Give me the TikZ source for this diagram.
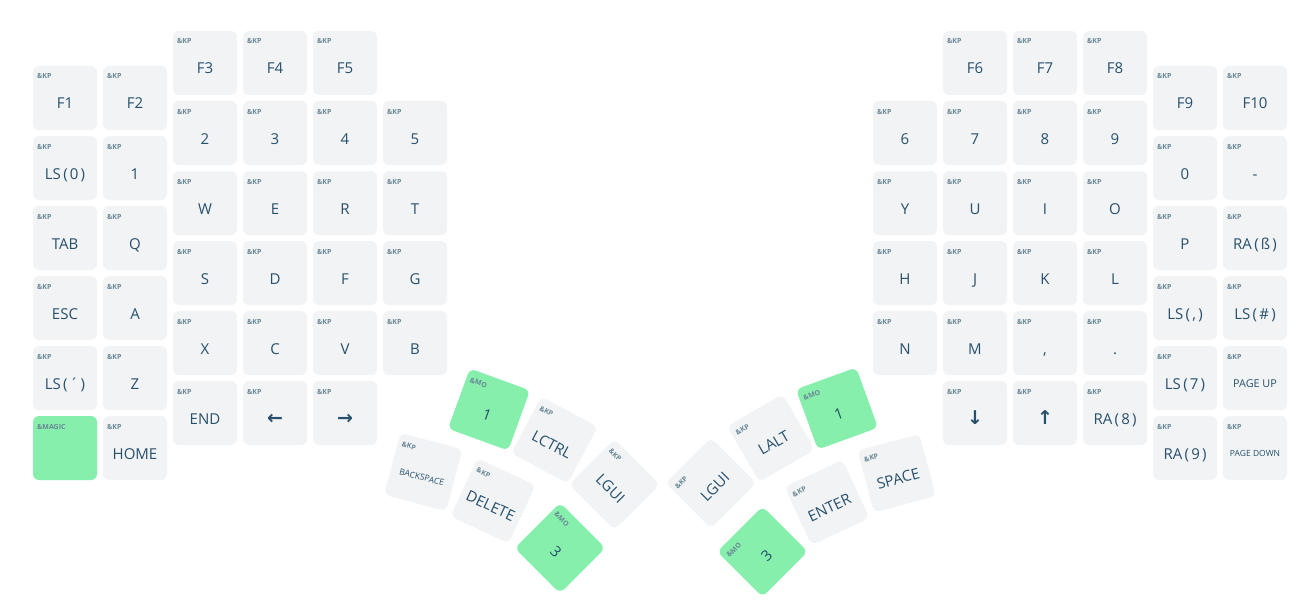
\documentclass[tikz,border=0pt]{standalone}
\usepackage{fontspec}
\setmainfont{Open Sans}
\newfontfamily\arrowfont{DejaVu Sans}
\definecolor{keyfill}{HTML}{F1F3F5}
\definecolor{greenfill}{HTML}{86EFAC}
\definecolor{maincol}{HTML}{27506C}
\definecolor{tagcol}{HTML}{6A8896}
\newcommand\kparen[1]{\kern2.4pt(\kern2.2pt#1\kern2.2pt)}
% #1 name, #2 cx, #3 cy (px, downwards), #4 angle, #5 fill, #6 tag, #7 label, #8 label style
\newcommand\kk[8]{%
\begin{scope}[shift={(#2,-#3)}, rotate=#4, transform shape]
\node[keybox, fill=#5] (#1) at (0,0) {};
\node[tagtxt] (#1t) at (-28,19) {#6};
\node[labtxt, #8] (#1l) at (0,-11) {#7};
\end{scope}}
\tikzset{
  keybox/.style={draw=none, minimum width=64pt, minimum height=64pt, rounded corners=6pt, inner sep=0pt},
  tagtxt/.style={anchor=base west, inner sep=0pt, text=tagcol, font=\fontsize{7}{8}\selectfont\bfseries},
  labtxt/.style={anchor=base, inner sep=0pt, text=maincol, font=\fontsize{15}{18}\selectfont},
  mid/.style={font=\fontsize{10.8}{12}\selectfont, yshift=1.5pt},
  tiny/.style={font=\fontsize{8.5}{10}\selectfont, yshift=2.5pt},
  arr/.style={font=\fontsize{19}{22}\selectfont\arrowfont\bfseries, yshift=0pt},
  nl/.style={}
}
\begin{document}
\begin{tikzpicture}[x=1pt, y=1pt]
\useasboundingbox[fill=white] (0,0) rectangle (1302,-610);
% left hand, columns 0 and 1
\kk{a0}{65}{98}{0}{keyfill}{\&KP}{F1}{nl}
\kk{a1}{65}{168}{0}{keyfill}{\&KP}{LS\kparen{0}}{nl}
\kk{a2}{65}{238}{0}{keyfill}{\&KP}{TAB}{nl}
\kk{a3}{65}{308}{0}{keyfill}{\&KP}{ESC}{nl}
\kk{a4}{65}{378}{0}{keyfill}{\&KP}{LS\kparen{´}}{nl}
\kk{a5}{65}{448}{0}{greenfill}{\&MAGIC}{}{nl}
\kk{b0}{135}{98}{0}{keyfill}{\&KP}{F2}{nl}
\kk{b1}{135}{168}{0}{keyfill}{\&KP}{1}{nl}
\kk{b2}{135}{238}{0}{keyfill}{\&KP}{Q}{nl}
\kk{b3}{135}{308}{0}{keyfill}{\&KP}{A}{nl}
\kk{b4}{135}{378}{0}{keyfill}{\&KP}{Z}{nl}
\kk{b5}{135}{448}{0}{keyfill}{\&KP}{HOME}{nl}
% columns 2-4
\kk{c0}{205}{63}{0}{keyfill}{\&KP}{F3}{nl}
\kk{c1}{205}{133}{0}{keyfill}{\&KP}{2}{nl}
\kk{c2}{205}{203}{0}{keyfill}{\&KP}{W}{nl}
\kk{c3}{205}{273}{0}{keyfill}{\&KP}{S}{nl}
\kk{c4}{205}{343}{0}{keyfill}{\&KP}{X}{nl}
\kk{c5}{205}{413}{0}{keyfill}{\&KP}{END}{nl}
\kk{d0}{275}{63}{0}{keyfill}{\&KP}{F4}{nl}
\kk{d1}{275}{133}{0}{keyfill}{\&KP}{3}{nl}
\kk{d2}{275}{203}{0}{keyfill}{\&KP}{E}{nl}
\kk{d3}{275}{273}{0}{keyfill}{\&KP}{D}{nl}
\kk{d4}{275}{343}{0}{keyfill}{\&KP}{C}{nl}
\kk{d5}{275}{413}{0}{keyfill}{\&KP}{←}{arr}
\kk{e0}{345}{63}{0}{keyfill}{\&KP}{F5}{nl}
\kk{e1}{345}{133}{0}{keyfill}{\&KP}{4}{nl}
\kk{e2}{345}{203}{0}{keyfill}{\&KP}{R}{nl}
\kk{e3}{345}{273}{0}{keyfill}{\&KP}{F}{nl}
\kk{e4}{345}{343}{0}{keyfill}{\&KP}{V}{nl}
\kk{e5}{345}{413}{0}{keyfill}{\&KP}{→}{arr}
\kk{f1}{415}{133}{0}{keyfill}{\&KP}{5}{nl}
\kk{f2}{415}{203}{0}{keyfill}{\&KP}{T}{nl}
\kk{f3}{415}{273}{0}{keyfill}{\&KP}{G}{nl}
\kk{f4}{415}{343}{0}{keyfill}{\&KP}{B}{nl}
% right hand
\kk{g1}{905}{133}{0}{keyfill}{\&KP}{6}{nl}
\kk{g2}{905}{203}{0}{keyfill}{\&KP}{Y}{nl}
\kk{g3}{905}{273}{0}{keyfill}{\&KP}{H}{nl}
\kk{g4}{905}{343}{0}{keyfill}{\&KP}{N}{nl}
\kk{h0}{975}{63}{0}{keyfill}{\&KP}{F6}{nl}
\kk{h1}{975}{133}{0}{keyfill}{\&KP}{7}{nl}
\kk{h2}{975}{203}{0}{keyfill}{\&KP}{U}{nl}
\kk{h3}{975}{273}{0}{keyfill}{\&KP}{J}{nl}
\kk{h4}{975}{343}{0}{keyfill}{\&KP}{M}{nl}
\kk{h5}{975}{413}{0}{keyfill}{\&KP}{↓}{arr}
\kk{i0}{1045}{63}{0}{keyfill}{\&KP}{F7}{nl}
\kk{i1}{1045}{133}{0}{keyfill}{\&KP}{8}{nl}
\kk{i2}{1045}{203}{0}{keyfill}{\&KP}{I}{nl}
\kk{i3}{1045}{273}{0}{keyfill}{\&KP}{K}{nl}
\kk{i4}{1045}{343}{0}{keyfill}{\&KP}{,}{nl}
\kk{i5}{1045}{413}{0}{keyfill}{\&KP}{↑}{arr}
\kk{j0}{1115}{63}{0}{keyfill}{\&KP}{F8}{nl}
\kk{j1}{1115}{133}{0}{keyfill}{\&KP}{9}{nl}
\kk{j2}{1115}{203}{0}{keyfill}{\&KP}{O}{nl}
\kk{j3}{1115}{273}{0}{keyfill}{\&KP}{L}{nl}
\kk{j4}{1115}{343}{0}{keyfill}{\&KP}{.}{nl}
\kk{j5}{1115}{413}{0}{keyfill}{\&KP}{RA\kparen{8}}{nl}
\kk{k0}{1185}{98}{0}{keyfill}{\&KP}{F9}{nl}
\kk{k1}{1185}{168}{0}{keyfill}{\&KP}{0}{nl}
\kk{k2}{1185}{238}{0}{keyfill}{\&KP}{P}{nl}
\kk{k3}{1185}{308}{0}{keyfill}{\&KP}{LS\kparen{,}}{nl}
\kk{k4}{1185}{378}{0}{keyfill}{\&KP}{LS\kparen{7}}{nl}
\kk{k5}{1185}{448}{0}{keyfill}{\&KP}{RA\kparen{9}}{nl}
\kk{l0}{1255}{98}{0}{keyfill}{\&KP}{F10}{nl}
\kk{l1}{1255}{168}{0}{keyfill}{\&KP}{-}{nl}
\kk{l2}{1255}{238}{0}{keyfill}{\&KP}{RA\kparen{ß}}{nl}
\kk{l3}{1255}{308}{0}{keyfill}{\&KP}{LS\kparen{\#}}{nl}
\kk{l4}{1255}{378}{0}{keyfill}{\&KP}{PAGE UP}{mid}
\kk{l5}{1255}{448}{0}{keyfill}{\&KP}{PAGE DOWN}{tiny}
% left thumb cluster
\kk{tl1}{489}{409.5}{-20}{greenfill}{\&MO}{1}{nl}
\kk{tl2}{554.5}{440}{-28}{keyfill}{\&KP}{LCTRL}{nl}
\kk{tl3}{614.5}{484.5}{-45}{keyfill}{\&KP}{LGUI}{nl}
\kk{tl4}{423.3}{472}{-15}{keyfill}{\&KP}{BACKSPACE}{tiny}
\kk{tl5}{493}{500.8}{-25}{keyfill}{\&KP}{DELETE}{nl}
\kk{tl6}{560}{548}{-45}{greenfill}{\&MO}{3}{nl}
% right thumb cluster
\kk{tr1}{837}{408.5}{20}{greenfill}{\&MO}{1}{nl}
\kk{tr2}{771}{438}{30}{keyfill}{\&KP}{LALT}{nl}
\kk{tr3}{711}{483}{45}{keyfill}{\&KP}{LGUI}{nl}
\kk{tr4}{896.7}{473.3}{15}{keyfill}{\&KP}{SPACE}{nl}
\kk{tr5}{827}{502.5}{25}{keyfill}{\&KP}{ENTER}{nl}
\kk{tr6}{762.5}{551.7}{45}{greenfill}{\&MO}{3}{nl}
\end{tikzpicture}
\end{document}
